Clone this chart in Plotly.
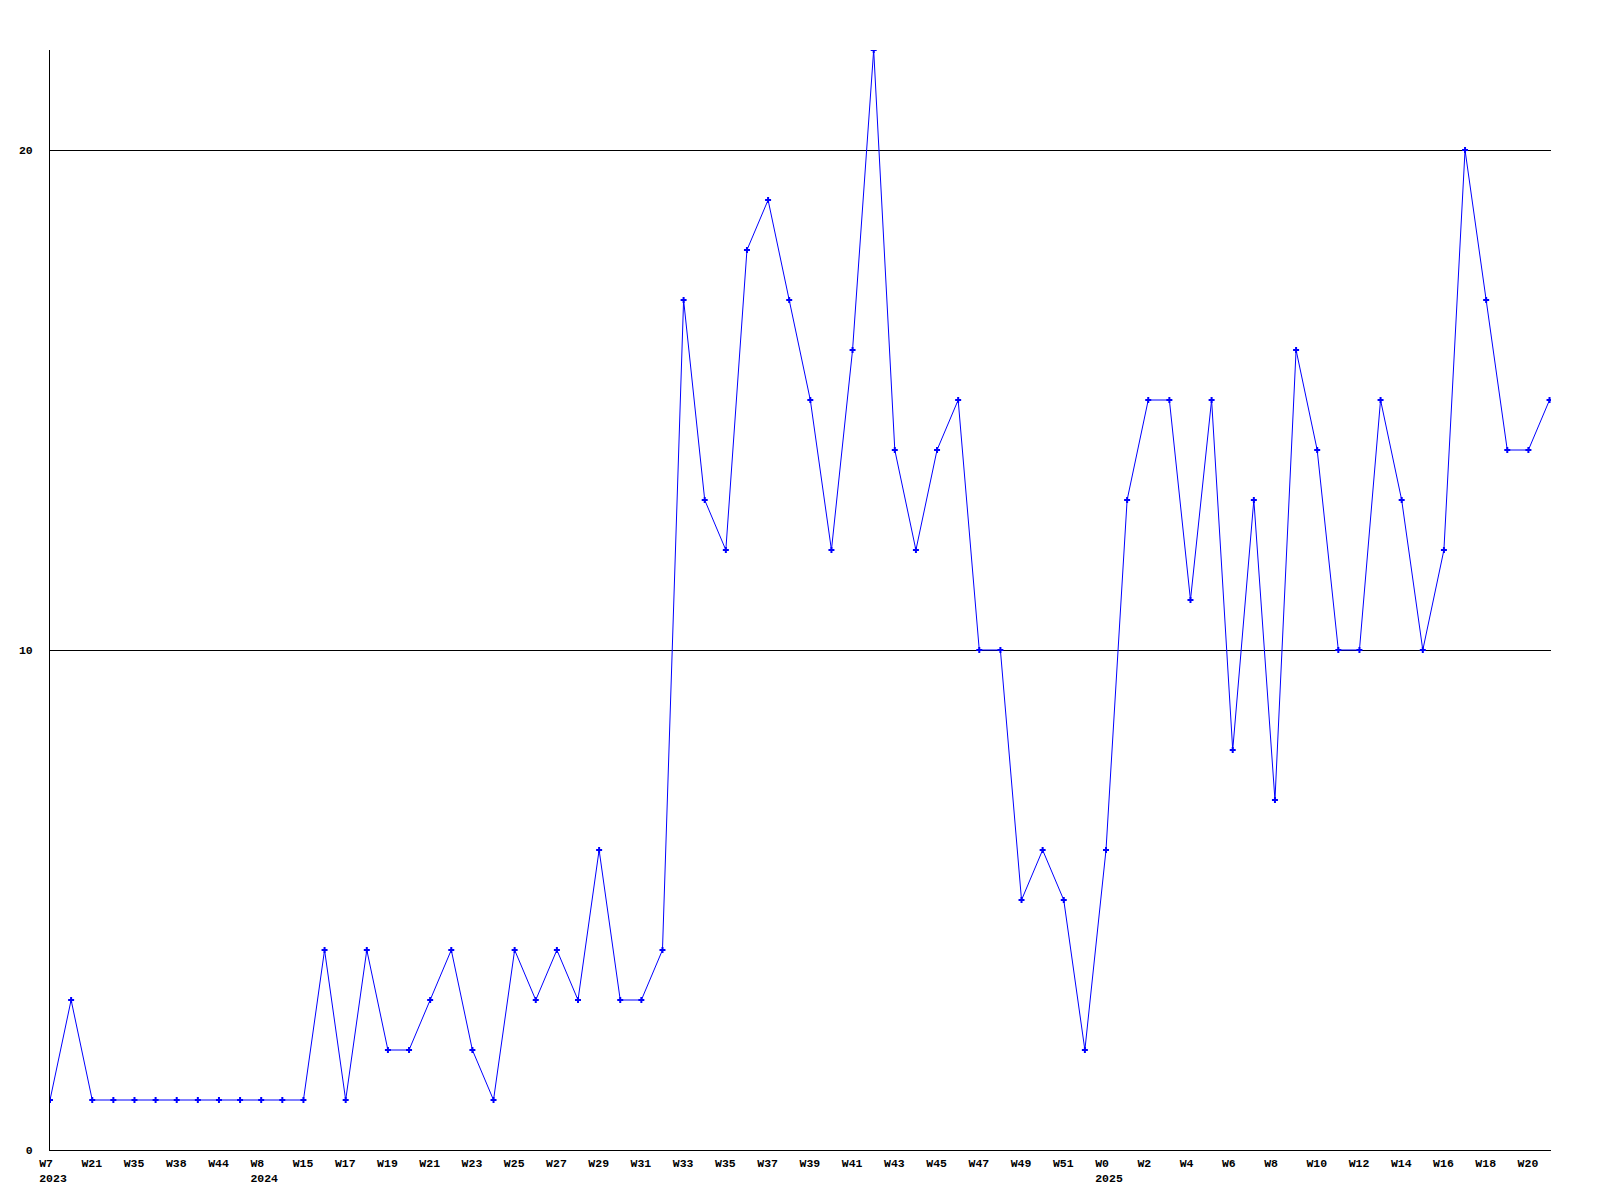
import plotly.graph_objects as go

# Weekly counts (one point per week shown on the chart)
values = [1, 3, 1, 1, 1, 1, 1, 1, 1, 1, 1, 1, 1, 4, 1, 4, 2, 2, 3, 4,
          2, 1, 4, 3, 4, 3, 6, 3, 3, 4, 17, 13, 12, 18, 19, 17, 15, 12, 16, 22,
          14, 12, 14, 15, 10, 10, 5, 6, 5, 2, 6, 13, 15, 15, 11, 15, 8, 13, 7, 16,
          14, 10, 10, 15, 13, 10, 12, 20, 17, 14, 14, 15]

# Labels on every second week
week_labels = ["W7", "W21", "W35", "W38", "W44", "W8", "W15", "W17", "W19", "W21",
               "W23", "W25", "W27", "W29", "W31", "W33", "W35", "W37", "W39", "W41",
               "W43", "W45", "W47", "W49", "W51", "W0", "W2", "W4", "W6", "W8",
               "W10", "W12", "W14", "W16", "W18", "W20"]
year_labels = {0: "2023", 5: "2024", 25: "2025"}

y_ticks = [0, 10, 20]

x_idx = list(range(len(values)))
NB = "\u00a0"


def pad(s, n=4):
    return s + NB * (n - len(s))


tickvals = [2 * i for i in range(len(week_labels))]
ticktext = []
for i, w in enumerate(week_labels):
    t = pad(w)
    if i in year_labels:
        t += "<br>" + pad(year_labels[i])
    ticktext.append(t)

font = dict(family="Liberation Mono, DejaVu Sans Mono, monospace", size=11.5, color="black", weight="bold")

fig = go.Figure()
fig.add_trace(go.Scatter(
    x=x_idx, y=values, mode="lines+markers",
    line=dict(color="#0000ff", width=1),
    marker=dict(symbol="cross", size=5, color="#0000ff"),
    showlegend=False,
))

fig.update_layout(
    width=1584, height=1184, autosize=False,
    margin=dict(l=42, r=41, t=42, b=42),
    plot_bgcolor="white", paper_bgcolor="white",
    font=font,
)
fig.update_xaxes(
    range=[0, 71.07], tickvals=tickvals, ticktext=ticktext,
    showgrid=False, zeroline=False, showline=True, linecolor="black", linewidth=1,
    ticks="", tickangle=0, ticklabelshift=3, ticklabelstandoff=2,
    tickfont=font, automargin=False,
)
fig.update_yaxes(
    range=[0, 22], tickvals=y_ticks, ticktext=[str(v) for v in y_ticks],
    showgrid=True, gridcolor="black", gridwidth=1,
    zeroline=False, showline=True, linecolor="black", linewidth=1,
    ticks="", ticklabelstandoff=14, tickfont=font, automargin=False,
)

fig.write_html("out.html")
